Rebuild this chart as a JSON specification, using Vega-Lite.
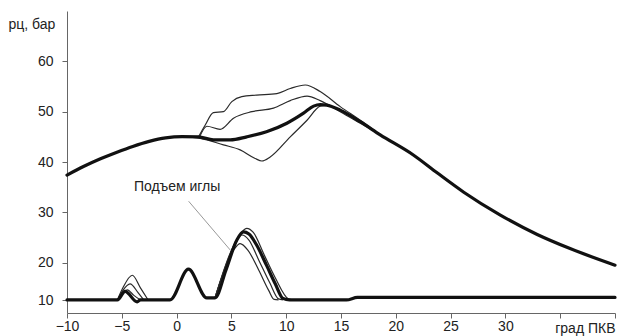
{
  "$schema": "https://vega.github.io/schema/vega-lite/v6.json",
  "width": 548,
  "height": 302,
  "autosize": {"type": "none"},
  "padding": {"left": 67, "top": 11, "right": 2, "bottom": 23},
  "background": "white",
  "config": {"view": {"stroke": null}, "font": "Liberation Sans Narrow, Liberation Sans, sans-serif"},
  "datasets": {
    "thin": [
      {"curve": "p1", "deg": 2.0, "value": 45.0},
      {"curve": "p1", "deg": 2.6, "value": 47.3},
      {"curve": "p1", "deg": 3.36, "value": 49.8},
      {"curve": "p1", "deg": 4.27, "value": 50.0},
      {"curve": "p1", "deg": 5.04, "value": 52.0},
      {"curve": "p1", "deg": 5.95, "value": 53.0},
      {"curve": "p1", "deg": 7.3, "value": 53.3},
      {"curve": "p1", "deg": 9.15, "value": 53.6},
      {"curve": "p1", "deg": 10.37, "value": 54.6},
      {"curve": "p1", "deg": 11.74, "value": 55.3},
      {"curve": "p1", "deg": 13.1, "value": 54.0},
      {"curve": "p1", "deg": 14.93, "value": 51.0},
      {"curve": "p1", "deg": 16.76, "value": 48.3},
      {"curve": "p1", "deg": 18.58, "value": 45.4},
      {"curve": "p2", "deg": 2.1, "value": 45.0},
      {"curve": "p2", "deg": 2.76, "value": 47.1},
      {"curve": "p2", "deg": 3.97, "value": 46.5},
      {"curve": "p2", "deg": 5.19, "value": 48.7},
      {"curve": "p2", "deg": 6.87, "value": 50.0},
      {"curve": "p2", "deg": 8.84, "value": 50.7},
      {"curve": "p2", "deg": 10.37, "value": 52.2},
      {"curve": "p2", "deg": 11.9, "value": 53.1},
      {"curve": "p2", "deg": 13.1, "value": 52.2},
      {"curve": "p2", "deg": 14.93, "value": 50.0},
      {"curve": "p2", "deg": 16.76, "value": 47.7},
      {"curve": "p2", "deg": 18.58, "value": 45.4},
      {"curve": "p3", "deg": 0.5, "value": 45.05},
      {"curve": "p3", "deg": 2.15, "value": 44.7},
      {"curve": "p3", "deg": 4.27, "value": 43.4},
      {"curve": "p3", "deg": 5.8, "value": 42.4},
      {"curve": "p3", "deg": 7.17, "value": 40.7},
      {"curve": "p3", "deg": 7.78, "value": 40.2},
      {"curve": "p3", "deg": 8.54, "value": 41.0},
      {"curve": "p3", "deg": 10.37, "value": 45.0},
      {"curve": "p3", "deg": 11.9, "value": 48.3},
      {"curve": "p3", "deg": 13.1, "value": 51.1},
      {"curve": "p3", "deg": 13.7, "value": 51.3},
      {"curve": "n1a", "deg": -5.4, "value": 12.6},
      {"curve": "n1a", "deg": -4.9, "value": 15.0},
      {"curve": "n1a", "deg": -4.04, "value": 17.5},
      {"curve": "n1a", "deg": -3.3, "value": 15.0},
      {"curve": "n1a", "deg": -2.6, "value": 12.6},
      {"curve": "n2a", "deg": -5.4, "value": 12.6},
      {"curve": "n2a", "deg": -4.9, "value": 14.5},
      {"curve": "n2a", "deg": -4.25, "value": 15.8},
      {"curve": "n2a", "deg": -3.5, "value": 14.0},
      {"curve": "n2a", "deg": -3.0, "value": 12.6},
      {"curve": "n3a", "deg": -5.4, "value": 12.6},
      {"curve": "n3a", "deg": -4.5, "value": 14.6},
      {"curve": "n3a", "deg": -3.9, "value": 13.5},
      {"curve": "n3a", "deg": -3.3, "value": 12.6},
      {"curve": "n1b", "deg": 3.5, "value": 13.0},
      {"curve": "n1b", "deg": 5.6, "value": 25.0},
      {"curve": "n1b", "deg": 6.4, "value": 26.8},
      {"curve": "n1b", "deg": 7.0, "value": 26.0},
      {"curve": "n1b", "deg": 8.0, "value": 21.5},
      {"curve": "n1b", "deg": 9.0, "value": 17.0},
      {"curve": "n1b", "deg": 10.2, "value": 12.8},
      {"curve": "n1b", "deg": 10.6, "value": 12.6},
      {"curve": "n2b", "deg": 3.5, "value": 13.0},
      {"curve": "n2b", "deg": 5.4, "value": 24.0},
      {"curve": "n2b", "deg": 5.95, "value": 25.5},
      {"curve": "n2b", "deg": 6.6, "value": 24.5},
      {"curve": "n2b", "deg": 7.5, "value": 20.5},
      {"curve": "n2b", "deg": 8.5, "value": 16.0},
      {"curve": "n2b", "deg": 9.3, "value": 12.8},
      {"curve": "n2b", "deg": 9.7, "value": 12.6},
      {"curve": "n3b", "deg": 3.5, "value": 13.0},
      {"curve": "n3b", "deg": 5.2, "value": 22.5},
      {"curve": "n3b", "deg": 5.8, "value": 23.8},
      {"curve": "n3b", "deg": 6.5, "value": 22.5},
      {"curve": "n3b", "deg": 7.5, "value": 18.5},
      {"curve": "n3b", "deg": 8.4, "value": 14.5},
      {"curve": "n3b", "deg": 8.9, "value": 12.7},
      {"curve": "n3b", "deg": 9.3, "value": 12.6}
    ],
    "thick": [
      {"curve": "p0", "deg": -10, "value": 37.4},
      {"curve": "p0", "deg": -8.5, "value": 39.1},
      {"curve": "p0", "deg": -7, "value": 40.6},
      {"curve": "p0", "deg": -5.5, "value": 41.9},
      {"curve": "p0", "deg": -4, "value": 43.1},
      {"curve": "p0", "deg": -2.5, "value": 44.1},
      {"curve": "p0", "deg": -1, "value": 44.8},
      {"curve": "p0", "deg": 0.5, "value": 45.05},
      {"curve": "p0", "deg": 2.0, "value": 45.0},
      {"curve": "p0", "deg": 3.36, "value": 44.4},
      {"curve": "p0", "deg": 4.9, "value": 44.4},
      {"curve": "p0", "deg": 6.4, "value": 45.0},
      {"curve": "p0", "deg": 8.2, "value": 46.0},
      {"curve": "p0", "deg": 10.06, "value": 47.7},
      {"curve": "p0", "deg": 11.58, "value": 49.7},
      {"curve": "p0", "deg": 12.5, "value": 51.1},
      {"curve": "p0", "deg": 13.1, "value": 51.4},
      {"curve": "p0", "deg": 13.7, "value": 51.3},
      {"curve": "p0", "deg": 14.93, "value": 50.3},
      {"curve": "p0", "deg": 16.76, "value": 48.0},
      {"curve": "p0", "deg": 18.58, "value": 45.4},
      {"curve": "p0", "deg": 21.6, "value": 41.4},
      {"curve": "p0", "deg": 23.8, "value": 37.8},
      {"curve": "p0", "deg": 26.2, "value": 34.0},
      {"curve": "p0", "deg": 29.5, "value": 29.5},
      {"curve": "p0", "deg": 32.9, "value": 25.6},
      {"curve": "p0", "deg": 35.9, "value": 22.8},
      {"curve": "p0", "deg": 40, "value": 19.5},
      {"curve": "n0", "deg": -10, "value": 12.6},
      {"curve": "n0", "deg": -5.4, "value": 12.6},
      {"curve": "n0", "deg": -4.7, "value": 14.3},
      {"curve": "n0", "deg": -3.6, "value": 12.2},
      {"curve": "n0", "deg": -3.3, "value": 12.6},
      {"curve": "n0", "deg": -0.6, "value": 12.6},
      {"curve": "n0", "deg": 1.08, "value": 18.7},
      {"curve": "n0", "deg": 2.76, "value": 13.0},
      {"curve": "n0", "deg": 3.5, "value": 13.0},
      {"curve": "n0", "deg": 4.5, "value": 18.5},
      {"curve": "n0", "deg": 5.5, "value": 24.5},
      {"curve": "n0", "deg": 6.1, "value": 26.1},
      {"curve": "n0", "deg": 6.6, "value": 25.7},
      {"curve": "n0", "deg": 7.3, "value": 23.5},
      {"curve": "n0", "deg": 8.2, "value": 19.5},
      {"curve": "n0", "deg": 9.0, "value": 15.8},
      {"curve": "n0", "deg": 9.7, "value": 12.9},
      {"curve": "n0", "deg": 10.3, "value": 12.6},
      {"curve": "n0", "deg": 15.5, "value": 12.6},
      {"curve": "n0", "deg": 16.5, "value": 13.1},
      {"curve": "n0", "deg": 40, "value": 13.1}
    ],
    "note": [
      {"deg": 0.05, "value": 35.0, "label": "Подъем иглы"}
    ],
    "leader": [
      {"deg": 1.1, "value": 32.2, "deg2": 4.9, "value2": 22.5}
    ]
  },
  "encoding": {
    "x": {
      "field": "deg",
      "type": "quantitative",
      "scale": {"domain": [-10, 40], "nice": false, "zero": false},
      "axis": {
        "values": [-10, -5, 0, 5, 10, 15, 20, 25, 30, 35, 40],
        "labelExpr": "datum.value >= 35 ? '' : datum.label",
        "title": "град ПКВ",
        "titleAlign": "right",
        "titleX": 548,
        "titleY": 19,
        "titleBaseline": "alphabetic",
        "titleFontWeight": "normal",
        "titleFontSize": 14,
        "titleColor": "#222",
        "labelFontSize": 14,
        "labelColor": "#222",
        "labelFlush": false,
        "labelOverlap": false,
        "tickSize": 5,
        "labelPadding": 1,
        "domainColor": "#666",
        "tickColor": "#666",
        "grid": false
      }
    },
    "y": {
      "field": "value",
      "type": "quantitative",
      "scale": {"domain": [10, 70], "nice": false, "zero": false},
      "axis": {
        "values": [12.5, 20, 30, 40, 50, 60],
        "labelExpr": "datum.value == 12.5 ? '10' : datum.label",
        "title": "pц, бар",
        "titleAngle": 0,
        "titleAlign": "left",
        "titleX": -59,
        "titleY": 17,
        "titleBaseline": "alphabetic",
        "titleFontWeight": "normal",
        "titleFontSize": 14,
        "titleColor": "#222",
        "labelFontSize": 14,
        "labelColor": "#222",
        "labelOverlap": false,
        "tickSize": 5,
        "labelPadding": 9,
        "domainColor": "#666",
        "tickColor": "#666",
        "grid": false
      }
    }
  },
  "layer": [
    {
      "data": {"name": "thin"},
      "mark": {"type": "line", "interpolate": "monotone", "strokeWidth": 1.2, "color": "#2a2a2a", "strokeJoin": "round"},
      "encoding": {"detail": {"field": "curve"}}
    },
    {
      "data": {"name": "thick"},
      "mark": {"type": "line", "interpolate": "monotone", "strokeWidth": 3.2, "color": "#111", "strokeJoin": "round", "strokeCap": "round"},
      "encoding": {"detail": {"field": "curve"}}
    },
    {
      "data": {"name": "leader"},
      "mark": {"type": "rule", "color": "#999", "strokeWidth": 1},
      "encoding": {"x2": {"field": "deg2"}, "y2": {"field": "value2"}}
    },
    {
      "data": {"name": "note"},
      "mark": {"type": "text", "fontSize": 14, "color": "#222", "align": "center", "baseline": "middle"},
      "encoding": {"text": {"field": "label"}}
    }
  ]
}
